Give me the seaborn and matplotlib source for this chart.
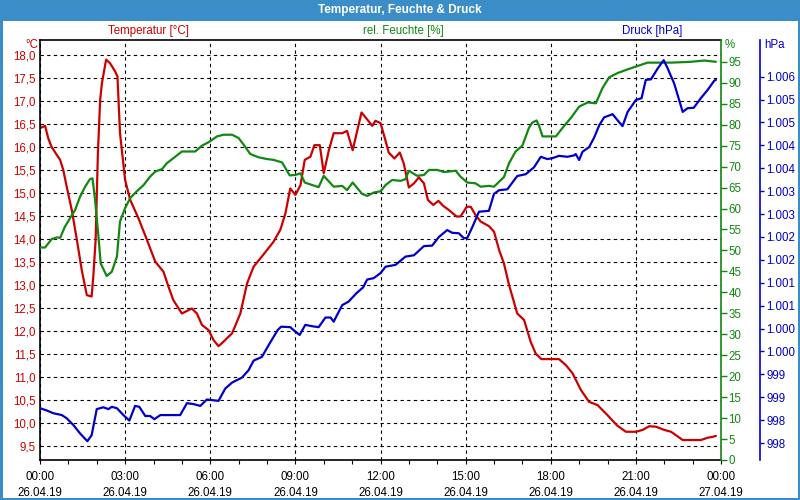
import matplotlib
matplotlib.use("Agg")
import matplotlib.pyplot as plt
import seaborn as sns
from matplotlib.patches import Rectangle

# ---------------- data ----------------
temp_h = [0.00, 0.18, 0.29, 0.41, 0.59, 0.71, 0.82, 0.94, 1.12, 1.30,
          1.47, 1.65, 1.82, 1.88, 1.96, 2.04, 2.12, 2.18, 2.33, 2.47,
          2.65, 2.73, 2.82, 3.00, 3.18, 3.47, 3.77, 4.06, 4.35, 4.53,
          4.70, 5.00, 5.35, 5.53, 5.71, 5.94, 6.12, 6.29, 6.47, 6.77,
          7.06, 7.30, 7.53, 7.82, 8.23, 8.47, 8.65, 8.82, 9.00, 9.18,
          9.33, 9.53, 9.67, 9.86, 10.00, 10.18, 10.35, 10.65, 10.82, 11.02,
          11.33, 11.53, 11.71, 11.82, 12.00, 12.14, 12.29, 12.49, 12.68, 12.82,
          13.00, 13.18, 13.35, 13.53, 13.67, 13.86, 14.04, 14.21, 14.41, 14.68,
          14.82, 15.04, 15.18, 15.35, 15.53, 15.82, 16.00, 16.18, 16.35, 16.53,
          16.82, 17.06, 17.29, 17.47, 17.67, 18.29, 18.53, 18.77, 19.06, 19.35,
          19.65, 20.00, 20.35, 20.65, 21.00, 21.24, 21.47, 21.71, 22.00, 22.24,
          22.65, 23.29, 23.53, 23.71, 23.82]
temp_v = [16.41, 16.46, 16.19, 16.00, 15.83, 15.72, 15.50, 15.14, 14.63, 13.98,
          13.33, 12.78, 12.75, 13.20, 13.98, 15.86, 17.02, 17.38, 17.90, 17.82,
          17.64, 17.53, 16.30, 15.28, 14.85, 14.45, 13.98, 13.51, 13.29, 12.96,
          12.67, 12.38, 12.49, 12.38, 12.13, 12.02, 11.80, 11.67, 11.77, 11.95,
          12.38, 13.04, 13.40, 13.62, 13.94, 14.20, 14.56, 15.10, 14.96, 15.17,
          15.72, 15.79, 16.04, 16.04, 15.43, 15.93, 16.30, 16.30, 16.35, 15.93,
          16.75, 16.60, 16.46, 16.57, 16.52, 16.22, 15.88, 15.75, 15.88, 15.64,
          15.12, 15.21, 15.34, 15.21, 14.85, 14.74, 14.83, 14.72, 14.63, 14.49,
          14.49, 14.70, 14.70, 14.52, 14.38, 14.28, 14.16, 13.76, 13.47, 13.00,
          12.38, 12.24, 11.77, 11.51, 11.39, 11.39, 11.26, 11.08, 10.72, 10.46,
          10.39, 10.17, 9.94, 9.81, 9.81, 9.85, 9.93, 9.92, 9.85, 9.81,
          9.63, 9.63, 9.68, 9.70, 9.72]

hum_h = [0.00, 0.18, 0.41, 0.59, 0.71, 0.88, 1.06, 1.24, 1.41, 1.59,
         1.76, 1.85, 1.94, 2.06, 2.14, 2.35, 2.53, 2.71, 2.82, 3.00,
         3.18, 3.41, 3.65, 3.88, 4.06, 4.30, 4.47, 4.70, 5.00, 5.47,
         5.71, 5.94, 6.24, 6.47, 6.77, 7.00, 7.18, 7.41, 7.71, 8.00,
         8.23, 8.53, 8.80, 9.00, 9.18, 9.33, 9.59, 9.82, 10.00, 10.35,
         10.65, 10.82, 11.02, 11.35, 11.53, 11.76, 12.00, 12.18, 12.41, 12.71,
         12.88, 13.00, 13.29, 13.53, 13.71, 14.00, 14.24, 14.65, 14.82, 15.06,
         15.35, 15.53, 15.82, 16.00, 16.35, 16.53, 16.76, 17.00, 17.23, 17.35,
         17.50, 17.59, 17.71, 18.18, 18.47, 18.71, 19.00, 19.30, 19.59, 19.82,
         20.06, 20.35, 20.71, 21.06, 21.41, 22.24, 22.94, 23.41, 23.82]
hum_v = [50.7, 50.7, 52.7, 53.1, 53.0, 55.7, 57.7, 59.7, 62.8, 65.2,
         67.0, 67.2, 62.1, 53.3, 46.9, 43.9, 44.9, 48.5, 56.9, 60.1,
         62.5, 64.1, 65.6, 67.6, 68.8, 69.4, 70.8, 72.0, 73.6, 73.6,
         75.0, 75.8, 77.2, 77.6, 77.6, 76.8, 75.2, 73.0, 72.2, 71.8,
         71.6, 71.0, 67.9, 68.0, 68.4, 66.2, 65.6, 65.1, 67.8, 65.2,
         65.4, 64.4, 66.2, 63.5, 63.0, 63.8, 64.1, 65.6, 66.8, 66.6,
         67.0, 69.0, 67.8, 68.0, 69.2, 69.2, 68.7, 69.0, 67.6, 66.2,
         66.0, 65.2, 65.4, 65.2, 67.5, 70.8, 73.6, 75.0, 79.2, 80.5,
         81.0, 79.7, 77.2, 77.2, 79.7, 81.6, 84.3, 85.3, 85.1, 88.7,
         91.3, 92.3, 93.2, 94.0, 94.8, 94.8, 95.0, 95.3, 95.0]

pres_h = [0.00, 0.24, 0.47, 0.77, 0.94, 1.18, 1.41, 1.67, 1.82, 2.00,
          2.23, 2.41, 2.53, 2.71, 2.94, 3.15, 3.35, 3.50, 3.71, 3.88,
          4.03, 4.24, 4.94, 5.18, 5.41, 5.65, 5.88, 6.29, 6.53, 6.77,
          7.12, 7.35, 7.53, 7.82, 8.06, 8.38, 8.50, 8.82, 9.00, 9.15,
          9.35, 9.59, 9.82, 10.06, 10.24, 10.35, 10.65, 10.88, 11.15, 11.39,
          11.53, 11.76, 12.00, 12.18, 12.53, 12.88, 13.18, 13.53, 13.82, 14.06,
          14.35, 14.53, 14.76, 14.94, 15.06, 15.24, 15.47, 15.82, 16.00, 16.18,
          16.47, 16.82, 17.12, 17.41, 17.65, 17.88, 18.06, 18.29, 18.59, 18.82,
          18.88, 19.00, 19.12, 19.35, 19.53, 19.71, 19.88, 20.18, 20.35, 20.53,
          20.71, 21.00, 21.20, 21.35, 21.53, 21.77, 21.98, 22.12, 22.35, 22.65,
          22.82, 23.04, 23.29, 23.53, 23.76, 23.82]
pres_v = [998.76, 998.71, 998.65, 998.61, 998.54, 998.39, 998.21, 998.04, 998.17, 998.74,
          998.78, 998.74, 998.79, 998.76, 998.61, 998.49, 998.81, 998.79, 998.59, 998.59,
          998.52, 998.61, 998.61, 998.87, 998.85, 998.81, 998.95, 998.92, 999.19, 999.32,
          999.43, 999.59, 999.80, 999.88, 1000.14, 1000.47, 1000.54, 1000.53, 1000.43, 1000.36,
          1000.58, 1000.55, 1000.53, 1000.74, 1000.74, 1000.65, 1001.01, 1001.09, 1001.27, 1001.40,
          1001.57, 1001.60, 1001.71, 1001.85, 1001.89, 1002.07, 1002.10, 1002.30, 1002.31, 1002.50,
          1002.65, 1002.59, 1002.58, 1002.47, 1002.48, 1002.72, 1003.05, 1003.07, 1003.44, 1003.52,
          1003.54, 1003.83, 1003.87, 1004.02, 1004.25, 1004.20, 1004.22, 1004.27, 1004.25, 1004.28,
          1004.31, 1004.18, 1004.36, 1004.46, 1004.67, 1004.94, 1005.11, 1005.18, 1005.05, 1004.92,
          1005.23, 1005.49, 1005.53, 1005.93, 1005.94, 1006.18, 1006.36, 1006.18, 1005.85, 1005.23,
          1005.31, 1005.32, 1005.53, 1005.71, 1005.91, 1005.93]

x_ticks = [0, 3, 6, 9, 12, 15, 18, 21, 24]
x_labels = ["00:00\n26.04.19", "03:00\n26.04.19", "06:00\n26.04.19",
            "09:00\n26.04.19", "12:00\n26.04.19", "15:00\n26.04.19",
            "18:00\n26.04.19", "21:00\n26.04.19", "00:00\n27.04.19"]
temp_ticks = [9.5 + 0.5 * i for i in range(18)]
temp_labels = [f"{t:.1f}".replace(".", ",") for t in temp_ticks]
hum_ticks = list(range(0, 100, 5))
pres_ticks = [998.0 + 0.5 * i for i in range(17)]
pres_labels = ["998", "998", "999", "999", "1.000", "1.000", "1.001", "1.001",
               "1.002", "1.002", "1.003", "1.003", "1.004", "1.004", "1.005",
               "1.005", "1.006"]

# ---------------- style ----------------
RED = "#cc0000"
GREEN = "#118811"
BLUE = "#0000cc"
BAR = "#3b8dc8"
FS = 8.3

sns.set_theme(style="white")
plt.rcParams["font.family"] = ["Liberation Sans", "DejaVu Sans"]

fig = plt.figure(figsize=(8, 5), dpi=100)
fig.patch.set_facecolor("white")
ax = fig.add_axes([40 / 800, 40 / 500, 681 / 800, 420 / 500])
ax.set_facecolor("white")

sns.lineplot(x=temp_h, y=temp_v, ax=ax, color=RED, linewidth=1.6,
             estimator=None, sort=False)
ax.set_xlim(0, 24)
ax.set_ylim(9.196, 18.326)
ax.set_xticks(x_ticks)
ax.set_xticklabels(x_labels, fontsize=FS, color="black", linespacing=1.45)
ax.set_xticks(range(25), minor=True)
ax.set_yticks(temp_ticks)
ax.set_yticklabels(temp_labels, fontsize=FS, color=RED)
ax.tick_params(axis="y", left=True, length=0, pad=3)
ax.tick_params(axis="x", which="both", bottom=True, length=3, width=0.8,
               color="black", direction="out", pad=5)
ax.grid(True, which="major", color="black", linestyle=(0, (3, 3)), linewidth=0.8)
for s in ["left", "bottom", "top"]:
    ax.spines[s].set_color("black")
    ax.spines[s].set_linewidth(1.2)
ax.spines["right"].set_visible(False)
ax.set_xlabel("")
ax.set_ylabel("")

ax2 = ax.twinx()
for s in ["left", "bottom", "top"]:
    ax2.spines[s].set_visible(False)
ax2.spines["right"].set_color(GREEN)
ax2.spines["right"].set_linewidth(1.2)
sns.lineplot(x=hum_h, y=hum_v, ax=ax2, color=GREEN, linewidth=1.6,
             estimator=None, sort=False)
ax2.set_ylim(0, 100.2)
ax2.set_yticks(hum_ticks)
ax2.set_yticklabels([str(v) for v in hum_ticks], fontsize=FS, color=GREEN)
ax2.tick_params(axis="y", right=True, length=4, width=1, color=GREEN,
                direction="out", pad=1.5)
ax2.set_ylabel("")
ax2.grid(False)

ax3 = ax.twinx()
for s in ["left", "bottom", "top"]:
    ax3.spines[s].set_visible(False)
ax3.spines["right"].set_position(("axes", 720 / 681))
ax3.spines["right"].set_color(BLUE)
ax3.spines["right"].set_linewidth(1.2)
sns.lineplot(x=pres_h, y=pres_v, ax=ax3, color=BLUE, linewidth=1.6,
             estimator=None, sort=False)
ax3.set_ylim(997.629, 1006.80)
ax3.set_yticks(pres_ticks)
ax3.set_yticklabels(pres_labels, fontsize=FS, color=BLUE)
ax3.tick_params(axis="y", right=True, length=3, width=1, color=BLUE,
                direction="out", pad=1.5, labelsize=FS, labelcolor=BLUE)
ax3.set_ylabel("")
ax3.grid(False)
ax.set_xlim(0, 24)

# ---------------- texts and frame ----------------
def fy(py):
    return 1 - py / 500

fig.patches.append(Rectangle((0, fy(21)), 1, 21 / 500, transform=fig.transFigure,
                             facecolor=BAR, edgecolor="none", zorder=0))
fig.patches.append(Rectangle((0.001, 0.002), 0.998, 0.996, transform=fig.transFigure,
                             facecolor="none", edgecolor=BAR, linewidth=2.2, zorder=5))
fig.text(0.5, fy(10.5), "Temperatur, Feuchte & Druck", ha="center", va="center",
         color="white", fontsize=8.5, fontweight="bold")

fig.text(148 / 800, fy(31), "Temperatur [°C]", ha="center", va="center",
         color=RED, fontsize=FS)
fig.text(403 / 800, fy(31), "rel. Feuchte [%]", ha="center", va="center",
         color=GREEN, fontsize=FS)
fig.text(652 / 800, fy(31), "Druck [hPa]", ha="center", va="center",
         color=BLUE, fontsize=FS)
fig.text(38 / 800, fy(45), "°C", ha="right", va="center", color=RED, fontsize=FS)
fig.text(725 / 800, fy(45), "%", ha="left", va="center", color=GREEN, fontsize=FS)
fig.text(764 / 800, fy(45), "hPa", ha="left", va="center", color=BLUE, fontsize=FS)

fig.savefig("out.png", dpi=100)
